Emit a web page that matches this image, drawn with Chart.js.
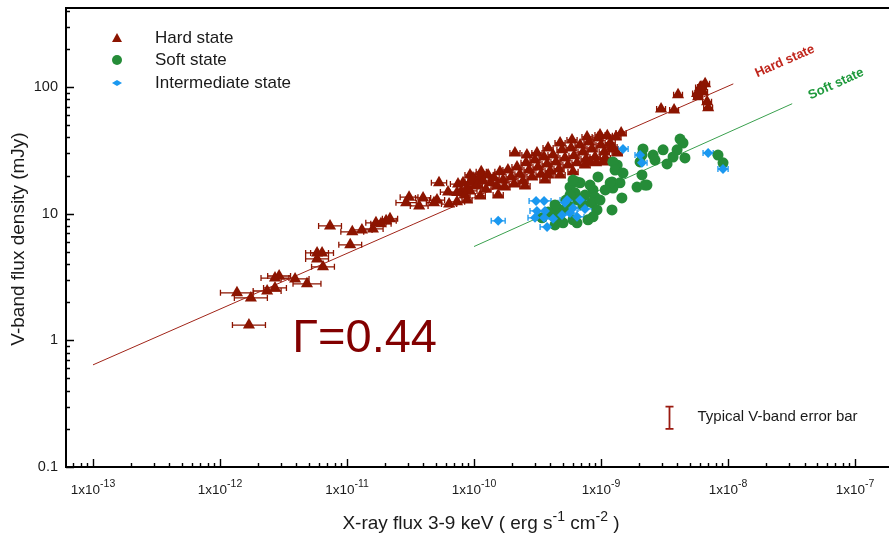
<!DOCTYPE html>
<html>
<head>
<meta charset="utf-8">
<script src="https://cdn.jsdelivr.net/npm/chart.js@4.4.0/dist/chart.umd.min.js"></script>
<style>
  html, body { margin: 0; padding: 0; background: #fff; overflow: hidden; }
  #fluxplot { display: block; }
</style>
</head>
<body>
<canvas id="fluxplot" width="889" height="535"></canvas>
<script>
// X-ray flux (erg/s/cm2), V-band flux density (mJy), x error in dex
const hardX = [
  1.69e-12, 1.36e-12, 1.75e-12, 2.35e-12, 2.71e-12, 2.71e-12, 2.92e-12, 3.90e-12, 4.84e-12, 5.81e-12,
  6.36e-12, 5.81e-12, 6.47e-12, 7.35e-12, 1.06e-11, 1.10e-11, 1.31e-11, 1.60e-11, 1.69e-11, 1.85e-11,
  2.03e-11, 2.18e-11, 3.08e-11, 2.92e-11, 3.70e-11, 3.97e-11, 4.84e-11, 5.11e-11, 6.36e-11, 7.35e-11,
  6.24e-11, 7.48e-11, 5.30e-11, 7.35e-11, 9.30e-11, 1.02e-10, 1.08e-10,
  7.88e-11, 8.19e-11, 8.49e-11, 8.81e-11, 8.81e-11, 9.30e-11, 9.30e-11, 9.82e-11, 1.06e-10, 1.12e-10,
  1.12e-10, 1.14e-10, 1.18e-10, 1.24e-10, 1.29e-10, 1.36e-10, 1.44e-10, 1.52e-10, 1.55e-10, 1.60e-10,
  1.69e-10, 1.75e-10, 1.85e-10, 1.96e-10, 2.07e-10, 2.10e-10, 2.18e-10, 2.30e-10, 2.43e-10, 2.52e-10,
  2.57e-10, 2.61e-10, 2.71e-10, 2.86e-10, 3.02e-10, 3.13e-10, 3.19e-10, 3.37e-10, 3.56e-10, 3.62e-10,
  3.76e-10, 3.83e-10, 3.83e-10, 3.97e-10, 4.19e-10, 4.42e-10, 4.67e-10, 4.76e-10, 4.76e-10, 4.93e-10,
  5.20e-10, 5.49e-10, 5.81e-10, 5.91e-10, 6.02e-10, 6.13e-10, 6.47e-10, 6.84e-10, 7.22e-10, 7.48e-10,
  7.62e-10, 7.76e-10, 8.04e-10, 8.19e-10, 8.49e-10, 8.97e-10, 9.13e-10, 9.47e-10, 9.82e-10, 1.00e-9,
  1.04e-9, 1.06e-9, 1.08e-9, 1.12e-9, 1.18e-9, 1.22e-9, 1.24e-9, 1.31e-9, 1.34e-9, 1.44e-9,
  2.97e-9, 3.76e-9, 4.04e-9, 5.81e-9, 6.02e-9, 6.24e-9, 6.36e-9, 6.60e-9, 6.84e-9, 6.97e-9, 5.70e-9
];
const hardY = [
  1.32, 2.37, 2.16, 2.45, 2.59, 3.10, 3.22, 3.05, 2.79, 4.90,
  4.90, 4.39, 3.80, 8.00, 5.67, 7.18, 7.44, 7.57, 8.46, 8.31,
  8.77, 9.10, 13.5, 12.2, 11.5, 13.3, 12.2, 12.8, 11.9, 12.4,
  14.8, 17.1, 17.5, 14.7, 15.1, 16.5, 18.8,
  14.8, 17.5, 14.0, 15.9, 12.8, 17.8, 20.2, 19.1, 16.8, 19.8,
  13.8, 21.4, 18.1, 15.6, 20.2, 17.5, 19.1, 16.5, 14.0, 21.4,
  18.4, 16.2, 22.1, 19.5, 17.1, 30.1, 23.3, 20.5, 18.1, 16.5,
  25.2, 29.0, 22.1, 19.5, 26.5, 30.1, 23.3, 20.5, 28.0, 18.4,
  24.7, 33.0, 20.2, 21.7, 29.0, 25.6, 22.5, 36.1, 20.2, 31.9,
  27.5, 24.2, 33.0, 38.2, 21.4, 28.6, 25.2, 34.8, 30.7, 24.2,
  27.0, 40.3, 36.8, 25.6, 32.4, 28.0, 25.2, 39.6, 41.8, 34.8,
  25.6, 30.7, 27.5, 41.1, 36.1, 33.6, 32.4, 40.3, 30.1, 43.4,
  67.0, 65.9, 86.7, 83.6, 98.8, 100, 91.3, 105.8, 76.3, 68.5, 88.8
];
const hardErr = [
  0.13, 0.13, 0.13, 0.11, 0.09, 0.11, 0.09, 0.11, 0.11, 0.09,
  0.09, 0.09, 0.09, 0.09, 0.09, 0.09, 0.08, 0.08, 0.08, 0.08,
  0.08, 0.06, 0.07, 0.08, 0.07, 0.06, 0.06, 0.06, 0.06, 0.06,
  0.06, 0.06, 0.06, 0.055, 0.055, 0.055, 0.055,
  0.04, 0.04, 0.04, 0.04, 0.04, 0.04, 0.04, 0.04, 0.04, 0.04,
  0.04, 0.04, 0.04, 0.04, 0.04, 0.04, 0.04, 0.04, 0.04, 0.04,
  0.04, 0.04, 0.04, 0.04, 0.04, 0.04, 0.04, 0.04, 0.04, 0.04,
  0.04, 0.04, 0.04, 0.04, 0.04, 0.04, 0.04, 0.04, 0.04, 0.04,
  0.04, 0.04, 0.04, 0.04, 0.04, 0.04, 0.04, 0.04, 0.04, 0.04,
  0.04, 0.04, 0.04, 0.04, 0.04, 0.04, 0.04, 0.04, 0.04, 0.04,
  0.04, 0.04, 0.04, 0.04, 0.04, 0.04, 0.04, 0.04, 0.04, 0.04,
  0.04, 0.04, 0.04, 0.04, 0.04, 0.04, 0.04, 0.04, 0.04, 0.04,
  0.035, 0.035, 0.035, 0.035, 0.035, 0.035, 0.035, 0.035, 0.035, 0.035, 0.035
];

const softX = [
  4.19e-9, 4.42e-9, 3.97e-9, 4.58e-9, 3.69e-9, 3.31e-9, 3.08e-9, 2.57e-9, 2.66e-9, 2.14e-9,
  2.10e-9, 2.03e-9, 2.10e-9, 1.92e-9, 2.30e-9, 1.34e-9, 1.24e-9, 1.29e-9, 1.49e-9, 1.41e-9,
  1.22e-9, 1.24e-9, 9.47e-10, 1.46e-9, 1.22e-9, 8.65e-10, 8.97e-10, 8.49e-10, 9.30e-10, 8.65e-10,
  7.90e-10, 6.84e-10, 6.47e-10, 5.70e-10, 6.24e-10, 6.60e-10, 7.22e-10, 5.70e-10, 5.02e-10, 4.50e-10,
  4.34e-10, 4.76e-10, 4.34e-10, 6.02e-10, 6.47e-10, 3.43e-10, 8.34e-9, 9.13e-9, 5.70e-10, 4.34e-10,
  5.02e-10, 1.18e-9, 2.22e-9, 3.83e-10, 5.30e-10, 7.48e-10, 9.82e-10, 1.08e-9, 8.19e-10, 6.02e-10
];
const softY = [
  38.8, 36.1, 31.9, 27.5, 28.0, 24.7, 31.9, 29.0, 26.5, 32.4,
  29.0, 25.6, 20.2, 16.2, 16.8, 24.2, 25.6, 22.1, 20.9, 17.5,
  17.8, 15.9, 19.5, 13.3, 10.7, 15.4, 13.5, 12.2, 10.7, 9.43,
  8.93, 17.5, 17.8, 16.2, 14.6, 12.8, 11.7, 11.3, 10.7, 11.1,
  9.43, 8.93, 8.15, 8.93, 8.46, 9.26, 29.0, 25.2, 14.0, 11.7,
  8.46, 17.5, 16.8, 10.3, 12.8, 14.0, 12.8, 15.4, 16.8, 18.4
];

const interX = [
  1.55e-10, 1.49e-9, 2.03e-9, 2.10e-9, 3.08e-10, 3.56e-10, 3.13e-10, 3.62e-10, 3.02e-10, 3.56e-10,
  4.19e-10, 3.76e-10, 5.40e-10, 5.20e-10, 6.02e-10, 6.84e-10, 7.48e-10, 4.93e-10, 5.70e-10, 6.47e-10,
  6.97e-9, 9.13e-9
];
const interY = [
  8.77, 32.4, 29.0, 25.2, 12.6, 12.6, 10.5, 10.5, 9.26, 9.26,
  9.10, 7.86, 12.8, 12.2, 11.1, 12.8, 10.9, 9.77, 10.1, 9.43,
  30.1, 22.5
];
const interErr = [
  0.055, 0.04, 0.04, 0.04, 0.055, 0.055, 0.055, 0.055, 0.055, 0.055,
  0.055, 0.055, 0.055, 0.055, 0.055, 0.055, 0.055, 0.055, 0.055, 0.055,
  0.04, 0.04
];

// power-law fits  S_V = y0 * (F_X / x0)^gamma
const hardFit = { gamma: 0.44, x0: 1e-13, y0: 0.64, xMin: 1e-13, xMax: 1.1e-8, labelX: 2.8e-8, label: 'Hard state' };
const softFit = { gamma: 0.45, x0: 1e-10, y0: 5.5, xMin: 1e-10, xMax: 3.2e-8, labelX: 7.1e-8, label: 'Soft state' };
const typicalErr = { x: 3.43e-9, y: 0.25, yErr: 0.05 };

const xDecades = [-13, -12, -11, -10, -9, -8, -7];
const yTickVals = [0.1, 1, 10, 100];
const yTickText = ['0.1', '1', '10', '100'];

const FONT = '"Liberation Sans", Arial, Helvetica, sans-serif';
const TEXT = '#1a1a1a';
const HARD = '#8c1400';
const SOFT = '#258c38';
const INTER = '#1a98f0';

const fitY = (f, x) => f.y0 * Math.pow(x / f.x0, f.gamma);
const fitLine = f => [{ x: f.xMin, y: fitY(f, f.xMin) }, { x: f.xMax, y: fitY(f, f.xMax) }];
const pts = (xs, ys) => xs.map((x, i) => ({ x: x, y: ys[i] }));

function richText(c, parts, x, y, align, size, supSize, raise) {
  let w = 0;
  parts.forEach(p => { c.font = (p[1] ? supSize : size) + 'px ' + FONT; w += c.measureText(p[0]).width; });
  let cx = align === 'center' ? x - w / 2 : (align === 'right' ? x - w : x);
  c.textAlign = 'left';
  parts.forEach(p => {
    c.font = (p[1] ? supSize : size) + 'px ' + FONT;
    c.fillText(p[0], cx, p[1] ? y - raise : y);
    cx += c.measureText(p[0]).width;
  });
}

const errorBars = {
  id: 'errorBars',
  beforeDatasetsDraw(chart) {
    const c = chart.ctx, xs = chart.scales.x;
    c.save();
    chart.data.datasets.forEach((ds, i) => {
      if (!ds.xErr) return;
      const meta = chart.getDatasetMeta(i);
      c.strokeStyle = ds.backgroundColor;
      c.lineWidth = 1.3;
      meta.data.forEach((el, j) => {
        const d = ds.data[j], f = Math.pow(10, ds.xErr[j]);
        const x1 = xs.getPixelForValue(d.x / f), x2 = xs.getPixelForValue(d.x * f), py = el.y;
        c.beginPath();
        c.moveTo(x1, py); c.lineTo(x2, py);
        c.moveTo(x1, py - 3); c.lineTo(x1, py + 3);
        c.moveTo(x2, py - 3); c.lineTo(x2, py + 3);
        c.stroke();
      });
    });
    c.restore();
  }
};

const decor = {
  id: 'decor',
  afterDraw(chart) {
    const c = chart.ctx, a = chart.chartArea, xs = chart.scales.x, ys = chart.scales.y;
    const edge = chart.width;
    c.save();
    // frame (runs off the right edge of the picture)
    c.strokeStyle = '#000';
    c.lineWidth = 2;
    c.beginPath();
    c.moveTo(edge, a.top); c.lineTo(a.left, a.top); c.lineTo(a.left, a.bottom); c.lineTo(edge, a.bottom);
    c.stroke();
    // inward ticks
    c.lineWidth = 1.4;
    c.beginPath();
    for (let k = -14; k <= -6; k++) {
      for (let m = 1; m <= 9; m++) {
        const v = m * Math.pow(10, k);
        if (v < xs.min || v > xs.max) continue;
        const px = Math.round(xs.getPixelForValue(v)) + 0.5, len = m === 1 ? 8 : 4;
        c.moveTo(px, a.bottom); c.lineTo(px, a.bottom - len);
      }
    }
    for (let k = -1; k <= 2; k++) {
      for (let m = 1; m <= 9; m++) {
        const v = m * Math.pow(10, k);
        if (v < ys.min || v > ys.max) continue;
        const py = Math.round(ys.getPixelForValue(v)) + 0.5, len = m === 1 ? 8 : 4;
        c.moveTo(a.left, py); c.lineTo(a.left + len, py);
      }
    }
    c.stroke();

    // tick labels
    c.fillStyle = TEXT;
    c.textBaseline = 'alphabetic';
    xDecades.forEach(k => {
      const px = xs.getPixelForValue(Math.pow(10, k));
      richText(c, [['1x10', false], [String(k), true]], px, a.bottom + 27, 'center', 13.5, 10.5, 7);
    });
    c.font = '14.5px ' + FONT;
    c.textAlign = 'right';
    c.textBaseline = 'middle';
    yTickVals.forEach((v, i) => c.fillText(yTickText[i], a.left - 8, ys.getPixelForValue(v)));

    // axis titles
    c.textBaseline = 'alphabetic';
    richText(c, [['X-ray flux 3-9 keV ( erg s', false], ['-1', true], [' cm', false], ['-2', true], [' )', false]],
      481, 529, 'center', 19, 14, 8);
    c.save();
    c.translate(24, 239);
    c.rotate(-Math.PI / 2);
    c.font = '19px ' + FONT;
    c.textAlign = 'center';
    c.fillText('V-band flux density (mJy)', 0, 0);
    c.restore();

    // legend
    const lx = a.left + 51, tx = a.left + 89;
    const rows = [a.top + 30, a.top + 52, a.top + 75];
    c.fillStyle = HARD;
    c.beginPath();
    c.moveTo(lx, rows[0] - 5); c.lineTo(lx + 5, rows[0] + 4); c.lineTo(lx - 5, rows[0] + 4); c.closePath(); c.fill();
    c.fillStyle = SOFT;
    c.beginPath(); c.arc(lx, rows[1], 5, 0, Math.PI * 2); c.fill();
    c.fillStyle = INTER;
    c.beginPath();
    c.moveTo(lx - 5, rows[2]); c.lineTo(lx, rows[2] - 3); c.lineTo(lx + 5, rows[2]); c.lineTo(lx, rows[2] + 3); c.closePath(); c.fill();
    c.fillStyle = TEXT;
    c.font = '17px ' + FONT;
    c.textAlign = 'left';
    c.textBaseline = 'middle';
    c.fillText('Hard state', tx, rows[0]);
    c.fillText('Soft state', tx, rows[1]);
    c.fillText('Intermediate state', tx, rows[2]);

    // fit line labels
    [[hardFit, '#c0261c'], [softFit, '#1f9a3c']].forEach(([f, col]) => {
      const p1x = xs.getPixelForValue(f.xMin), p1y = ys.getPixelForValue(fitY(f, f.xMin));
      const p2x = xs.getPixelForValue(f.xMax), p2y = ys.getPixelForValue(fitY(f, f.xMax));
      const ang = Math.atan2(p2y - p1y, p2x - p1x);
      c.save();
      c.translate(xs.getPixelForValue(f.labelX), ys.getPixelForValue(fitY(f, f.labelX)));
      c.rotate(ang);
      c.fillStyle = col;
      c.font = 'bold 13px ' + FONT;
      c.textAlign = 'center';
      c.textBaseline = 'middle';
      c.fillText(f.label, 0, 0);
      c.restore();
    });

    // slope annotation
    c.fillStyle = '#820000';
    c.font = '47px ' + FONT;
    c.textAlign = 'left';
    c.textBaseline = 'alphabetic';
    c.fillText('\u0393=0.44', xs.getPixelForValue(3.7e-12), ys.getPixelForValue(0.81));

    // typical error bar
    const ex = Math.round(xs.getPixelForValue(typicalErr.x)) + 0.5;
    const ey1 = ys.getPixelForValue(typicalErr.y - typicalErr.yErr), ey2 = ys.getPixelForValue(typicalErr.y + typicalErr.yErr);
    c.strokeStyle = '#9a1a10';
    c.lineWidth = 1.8;
    c.beginPath();
    c.moveTo(ex, ey1); c.lineTo(ex, ey2);
    c.moveTo(ex - 4, ey1); c.lineTo(ex + 4, ey1);
    c.moveTo(ex - 4, ey2); c.lineTo(ex + 4, ey2);
    c.stroke();
    c.fillStyle = TEXT;
    c.font = '15px ' + FONT;
    c.textBaseline = 'middle';
    c.fillText('Typical V-band error bar', ex + 28, ys.getPixelForValue(typicalErr.y));
    c.restore();
  }
};

const ctx = document.getElementById('fluxplot');

new Chart(ctx, {
  type: 'scatter',
  data: {
    datasets: [
      {
        label: 'Hard state fit', type: 'line', data: fitLine(hardFit),
        borderColor: '#a02418', borderWidth: 1, pointRadius: 0, fill: false, order: 10
      },
      {
        label: 'Soft state fit', type: 'line', data: fitLine(softFit),
        borderColor: '#3aa04e', borderWidth: 1, pointRadius: 0, fill: false, order: 10
      },
      {
        label: 'Hard state', data: pts(hardX, hardY), xErr: hardErr,
        pointStyle: 'triangle', pointRadius: 7, borderWidth: 0,
        backgroundColor: HARD, borderColor: HARD, order: 3
      },
      {
        label: 'Soft state', data: pts(softX, softY),
        pointStyle: 'circle', pointRadius: 5.5, borderWidth: 0,
        backgroundColor: SOFT, borderColor: SOFT, order: 2
      },
      {
        label: 'Intermediate state', data: pts(interX, interY), xErr: interErr,
        pointStyle: 'rectRot', pointRadius: 5, borderWidth: 0,
        backgroundColor: INTER, borderColor: INTER, order: 1
      }
    ]
  },
  options: {
    responsive: false,
    animation: false,
    layout: { padding: { left: 66, top: 8, right: 0, bottom: 68 } },
    plugins: { legend: { display: false }, tooltip: { enabled: false } },
    scales: {
      x: {
        type: 'logarithmic', min: 6.13e-14, max: 1.63e-7,
        ticks: { display: false },
        grid: { display: false, drawTicks: false },
        border: { display: false }
      },
      y: {
        type: 'logarithmic', min: 0.1, max: 420,
        ticks: { display: false },
        grid: { display: false, drawTicks: false },
        border: { display: false }
      }
    }
  },
  plugins: [errorBars, decor]
});
</script>
</body>
</html>
